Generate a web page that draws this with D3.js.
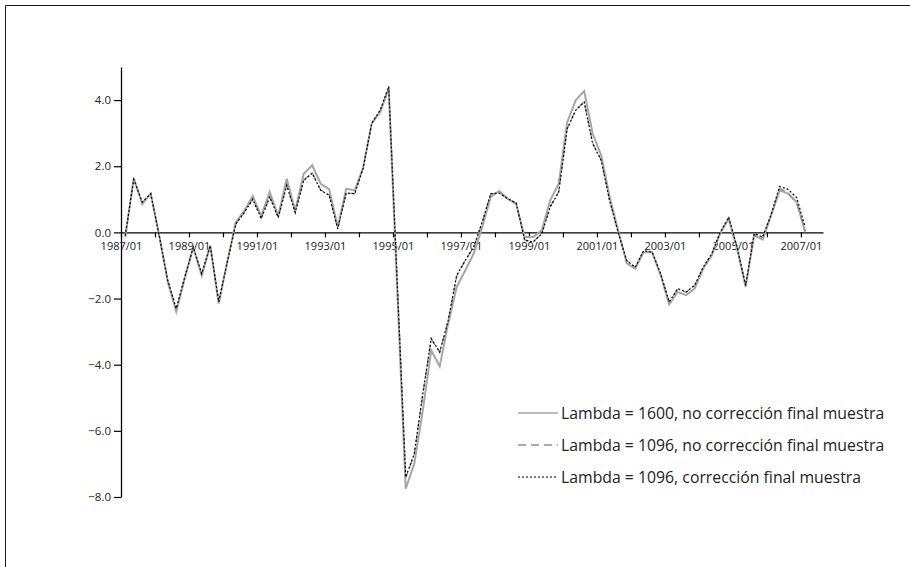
<!DOCTYPE html>
<html>
<head>
<meta charset="utf-8">
<script src="https://cdn.jsdelivr.net/npm/d3@7"></script>
<style>
  html, body { margin: 0; padding: 0; background: #fff; }
  svg { display: block; font-family: "Open Sans", "Noto Sans", sans-serif; }
</style>
</head>
<body>
<svg id="chart" width="910" height="567"></svg>
<script>
// Quarterly cycle estimates, 1987/01 – 2007/01
const startYear = 1987;
const quarterLabels = d3.range(81).map(i =>
  `${startYear + Math.floor(i / 4)}/0${(i % 4) + 1}`);

// Lambda = 1600, no end-of-sample correction
const hp1600 = [
  -0.15, 1.65, 0.85, 1.17, -0.1, -1.5, -2.4, -1.4, -0.45, -1.3,
  -0.4, -2.15, -0.9, 0.3, 0.65, 1.1, 0.5, 1.22, 0.5, 1.62,
  0.66, 1.77, 2.03, 1.47, 1.3, 0.16, 1.32, 1.27, 1.97, 3.29,
  3.64, 4.34, -1.7, -7.75, -7.0, -5.4, -3.57, -4.05, -2.76, -1.65,
  -1.15, -0.64, 0.16, 1.07, 1.25, 1.02, 0.85, -0.14, -0.14, 0.06,
  0.97, 1.47, 3.33, 3.99, 4.27, 2.98, 2.33, 1.07, 0.06, -0.93,
  -1.1, -0.6, -0.6, -1.3, -2.18, -1.8, -1.9, -1.7, -1.1, -0.7,
  -0.04, 0.41, -0.5, -1.65, -0.09, -0.22, 0.51, 1.27, 1.17, 0.92,
  0.01
];

// Lambda = 1096, no end-of-sample correction
const hp1096 = [
  -0.1, 1.6, 0.9, 1.17, -0.1, -1.45, -2.32, -1.36, -0.45, -1.26,
  -0.4, -2.1, -0.9, 0.26, 0.6, 1.02, 0.43, 1.08, 0.46, 1.44,
  0.6, 1.58, 1.8, 1.28, 1.13, 0.11, 1.2, 1.17, 1.95, 3.3,
  3.68, 4.4, -1.5, -7.42, -6.72, -4.92, -3.22, -3.63, -2.67, -1.32,
  -0.86, -0.45, 0.3, 1.16, 1.2, 1.02, 0.88, -0.23, -0.28, -0.04,
  0.78, 1.23, 3.14, 3.7, 3.95, 2.7, 2.19, 0.97, 0.01, -0.86,
  -1.06, -0.56, -0.6, -1.26, -2.11, -1.71, -1.81, -1.61, -1.06, -0.66,
  -0.01, 0.45, -0.46, -1.61, -0.05, -0.16, 0.53, 1.33, 1.2, 0.88,
  0.05
];

// Lambda = 1096, with end-of-sample correction
const hp1096c = [
  -0.1, 1.6, 0.92, 1.17, -0.1, -1.45, -2.3, -1.35, -0.45, -1.25,
  -0.4, -2.1, -0.9, 0.25, 0.6, 1.0, 0.42, 1.07, 0.45, 1.42,
  0.6, 1.57, 1.79, 1.27, 1.12, 0.11, 1.19, 1.17, 1.95, 3.3,
  3.7, 4.41, -1.5, -7.4, -6.7, -4.9, -3.21, -3.62, -2.66, -1.3,
  -0.85, -0.44, 0.31, 1.17, 1.19, 1.02, 0.89, -0.24, -0.29, -0.05,
  0.77, 1.22, 3.13, 3.69, 3.94, 2.68, 2.18, 0.95, 0.0, -0.85,
  -1.05, -0.55, -0.6, -1.25, -2.1, -1.7, -1.8, -1.6, -1.05, -0.65,
  0.0, 0.46, -0.45, -1.6, -0.04, -0.14, 0.55, 1.39, 1.3, 1.05,
  0.16
];

const yTicks = [-8, -6, -4, -2, 0, 2, 4];
const legendLabels = [
  "Lambda = 1600, no corrección final muestra",
  "Lambda = 1096, no corrección final muestra",
  "Lambda = 1096, corrección final muestra"
];

const svg = d3.select("#chart");

// outer frame (top and left edges visible)
svg.append("path")
  .attr("d", "M5.5,567 V5.5 H910")
  .attr("fill", "none")
  .attr("stroke", "#1a1a1a")
  .attr("stroke-width", 1);

// scales: x in quarters from 1987/01, each quarter centred in its slot
const x = d3.scaleLinear().domain([0, 82.6]).range([121, 823]);
const y = d3.scaleLinear().domain([-8, 5]).range([497, 67]);

// y axis
const yAxis = svg.append("g")
  .attr("transform", `translate(${x(0)},0)`)
  .call(d3.axisLeft(y).tickValues(yTicks).tickFormat(d3.format(".1f"))
    .tickSize(7).tickSizeOuter(0).tickPadding(3));
yAxis.select(".domain").attr("stroke", "#000").attr("stroke-width", 1.3);
yAxis.selectAll(".tick line").attr("stroke", "#000").attr("stroke-width", 1.2);
yAxis.selectAll("text").attr("font-size", 11.5).attr("fill", "#222")
  .attr("font-family", "'Open Sans', sans-serif");

// x axis on the zero line, tick every year, label every two years
const xAxis = svg.append("g")
  .attr("transform", `translate(0,${y(0)})`)
  .call(d3.axisBottom(x).tickValues(d3.range(0, 81, 4))
    .tickFormat(d => (d % 8 === 0 ? quarterLabels[d] : ""))
    .tickSize(5).tickSizeOuter(0).tickPadding(5));
xAxis.select(".domain").attr("stroke", "#000").attr("stroke-width", 1.3);
xAxis.selectAll(".tick line").attr("stroke", "#000").attr("stroke-width", 1.2);
xAxis.selectAll("text").attr("font-size", 11).attr("fill", "#222")
  .attr("font-family", "'Open Sans', sans-serif");

const line = d3.line()
  .x((d, i) => x(i + 0.5))
  .y(d => y(d));

const series = [
  { values: hp1600, stroke: "#a6a6a6", width: 2, dash: null },
  { values: hp1096, stroke: "#8f8f8f", width: 1.3, dash: "8,5" },
  { values: hp1096c, stroke: "#000", width: 1.2, dash: "2,2" }
];

svg.append("g").selectAll("path")
  .data(series)
  .join("path")
  .attr("d", d => line(d.values))
  .attr("fill", "none")
  .attr("stroke", d => d.stroke)
  .attr("stroke-width", d => d.width)
  .attr("stroke-dasharray", d => d.dash)
  .attr("stroke-linejoin", "miter");

// legend
const legend = svg.append("g");
const rows = legend.selectAll("g")
  .data(series)
  .join("g")
  .attr("transform", (d, i) => `translate(518,${413 + i * 32})`);
rows.append("line")
  .attr("x1", 0).attr("x2", 40)
  .attr("stroke", d => d.stroke)
  .attr("stroke-width", d => Math.min(d.width, 1.5))
  .attr("stroke-dasharray", d => d.dash);
rows.append("text")
  .attr("x", 43)
  .attr("dy", "0.35em")
  .attr("font-size", 15.8)
  .attr("fill", "#222")
  .text((d, i) => legendLabels[i]);
</script>
</body>
</html>
